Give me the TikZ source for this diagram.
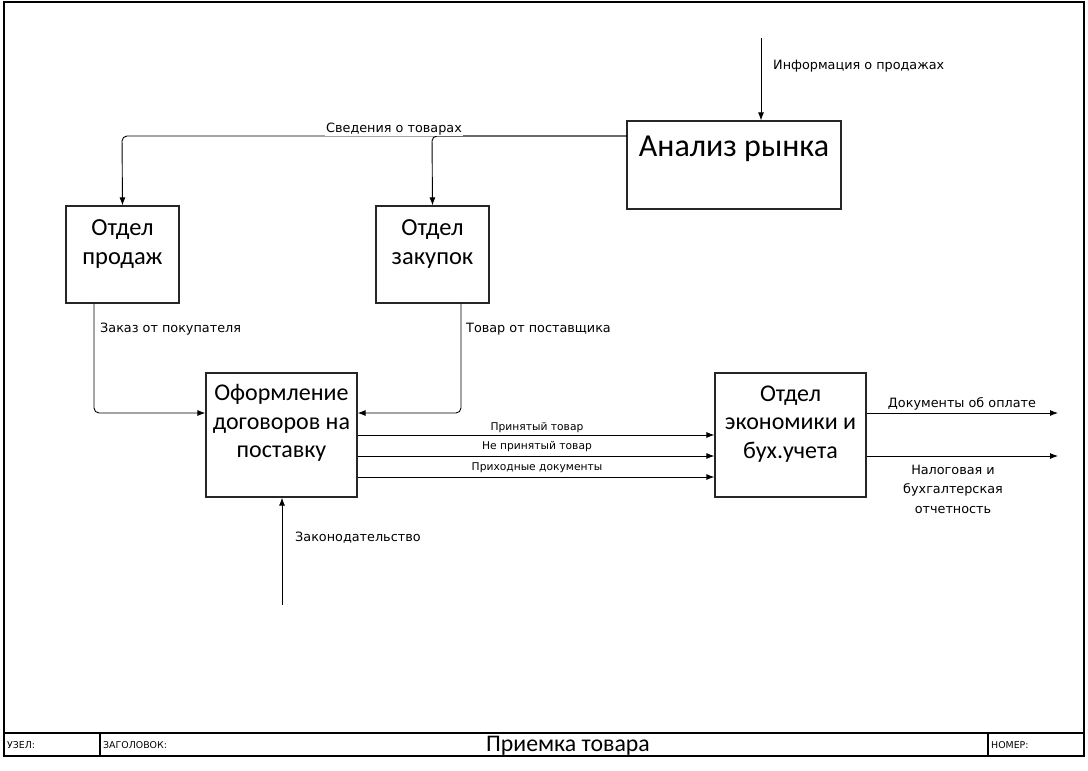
\documentclass[tikz,border=0pt]{standalone}
\usepackage{fontspec}
\setmainfont{Carlito}
\newfontfamily\labfont{DejaVu Sans}
\usetikzlibrary{arrows.meta}
\begin{document}
\begin{tikzpicture}[x=1pt,y=-1pt,
 box/.style={draw=black!85, line width=1.2pt, fill=white, inner sep=0pt},
 btext/.style={font=\fontsize{24.5}{28.5}\selectfont, align=center, inner sep=0pt},
 lab/.style={font=\labfont\fontsize{12.8}{19.5}\selectfont, inner sep=1pt, align=center},
 slab/.style={font=\labfont\fontsize{10.7}{12}\selectfont, inner sep=1pt},
 tlab/.style={font=\labfont\fontsize{9.4}{10}\selectfont, inner sep=0pt, anchor=west},
 arr/.style={line width=0.9pt, -{Latex[length=8pt,width=6pt]}, rounded corners=5pt},
 frame/.style={line width=1.2pt}
 ]
\useasboundingbox (0,0) rectangle (1088,771);
% frame
\draw[frame] (4,2) rectangle (1084,756);
\draw[frame] (4,733) -- (1084,733);
\draw[frame] (100,733) -- (100,756);
\draw[frame] (988,733) -- (988,756);
\node[tlab] (uzel) at (7,745) {УЗЕЛ:};
\node[tlab] (zag) at (103,745) {ЗАГОЛОВОК:};
\node[tlab] (nom) at (991,745) {НОМЕР:};
\node[font=\fontsize{23.8}{26}\selectfont, inner sep=0pt] (title) at (568,746) {Приемка товара};

% boxes
\node[box, minimum width=214pt, minimum height=88pt] (ar) at (734,165) {};
\node[btext, font=\fontsize{32}{36}\selectfont] (art) at (734,149) {Анализ рынка};
\node[box, minimum width=113pt, minimum height=97pt] (op) at (122.5,254.5) {};
\node[btext] (opt) at (122.5,244) {Отдел\\продаж};
\node[box, minimum width=113pt, minimum height=97pt] (oz) at (432.5,254.5) {};
\node[btext] (ozt) at (432.5,244) {Отдел\\закупок};
\node[box, minimum width=151pt, minimum height=124pt] (of) at (281.5,435) {};
\node[btext, font=\fontsize{24}{28.5}\selectfont] (oft) at (281.5,423) {Оформление\\договоров на\\поставку};
\node[box, minimum width=151pt, minimum height=124pt] (ek) at (790.5,435) {};
\node[btext, font=\fontsize{24}{28.5}\selectfont] (ekt) at (790.5,424) {Отдел\\экономики и\\бух.учета};

% connectors
\coordinate (inf) at (761,38);
\draw[arr] (inf) -- (inf |- ar.north);
\node[lab, anchor=west] (infl) at (772,66) {Информация о продажах};

\coordinate (s0) at (627,136);
\draw[arr] (s0) -- (122,136) -- (op.north);
\draw[arr] (s0) -- (432,136) -- (oz.north);
\node[lab, fill=white] (svl) at (394,129) {Сведения о товарах};

\draw[arr] (op.south -| 94,0) -- (94,413) -- (of.west |- 0,413);
\node[lab, anchor=west] (zakl) at (99,329) {Заказ от покупателя};
\draw[arr] (oz.south -| 461,0) -- (461,413) -- (of.east |- 0,413);
\node[lab, anchor=west] (tovl) at (465,329) {Товар от поставщика};

\draw[arr] (of.east |- 0,435) -- (ek.west |- 0,435);
\draw[arr] (of.east |- 0,456) -- (ek.west |- 0,456);
\draw[arr] (of.east |- 0,477) -- (ek.west |- 0,477);
\node[slab] (l1) at (537,428) {Принятый товар};
\node[slab] (l2) at (537,447) {Не принятый товар};
\node[slab] (l3) at (537,468) {Приходные документы};

\coordinate (zk) at (282,605);
\draw[arr] (zk) -- (of.south -| zk);
\node[lab, anchor=west] (zkl) at (294,538) {Законодательство};

\coordinate (o1) at (1058,413);
\coordinate (o2) at (1058,456);
\draw[arr] (ek.east |- o1) -- (o1);
\draw[arr] (ek.east |- o2) -- (o2);
\node[lab] (o1l) at (962,404) {Документы об оплате};
\node[lab] (o2l) at (953,489) {Налоговая и\\бухгалтерская\\отчетность};
\end{tikzpicture}
\end{document}
